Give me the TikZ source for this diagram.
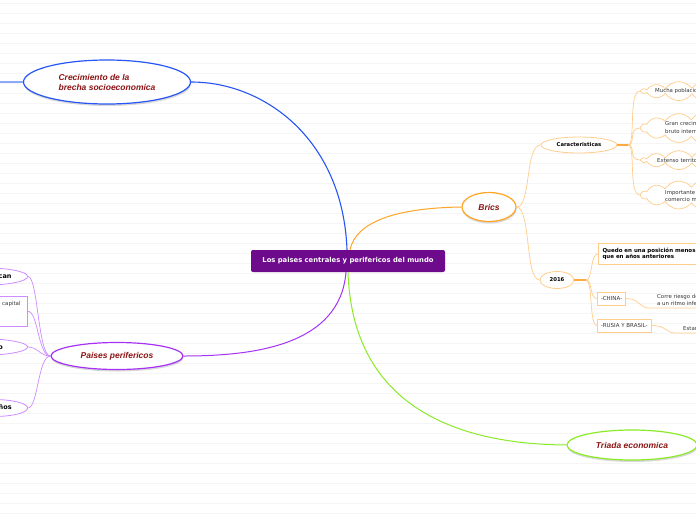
\documentclass[tikz,border=0pt]{standalone}
\usepackage{fontspec}
\setmainfont{Liberation Sans}
\newfontfamily\dv{DejaVu Sans}
\usetikzlibrary{shapes.geometric,shapes.symbols,shadows}
\definecolor{cpurpfill}{RGB}{110,10,140}
\definecolor{cblue}{RGB}{40,85,245}
\definecolor{lblue}{RGB}{140,170,250}
\definecolor{dred}{RGB}{140,20,20}
\definecolor{corange}{RGB}{255,165,40}
\definecolor{lorange}{RGB}{255,205,140}
\definecolor{morange}{RGB}{255,170,60}
\definecolor{cgreen}{RGB}{140,235,40}
\definecolor{cpurp}{RGB}{165,50,245}
\definecolor{lpurp}{RGB}{205,140,255}
\definecolor{bgl}{RGB}{245,245,245}
\definecolor{stxt}{RGB}{55,55,55}
\tikzset{
  central/.style={rectangle, rounded corners=2pt, fill=cpurpfill, text=white,
    font=\dv\bfseries\fontsize{6.8}{8}\selectfont, minimum width=194, minimum height=22, inner sep=0},
  mainell/.style={ellipse, fill=white, line width=1.2pt, text=dred, inner sep=0,
    font=\bfseries\itshape\fontsize{8.5}{10}\selectfont,
    drop shadow={shadow xshift=0.5pt, shadow yshift=-2pt, opacity=0.3, fill=gray}},
  subell/.style={ellipse, draw=lorange, fill=white, line width=0.8pt, inner sep=0,
    font=\dv\bfseries\fontsize{5.3}{6.5}\selectfont},
  cloudst/.style={cloud, cloud puffs=14, cloud puff arc=110, cloud ignores aspect,
    draw=lorange, fill=white, line width=0.7pt, inner sep=0},
  smalltxt/.style={font=\dv\fontsize{5.4}{7.5}\selectfont, text=stxt, inner sep=0, align=left},
  obox/.style={rectangle, draw=lorange, fill=white, line width=0.8pt, inner xsep=3.5pt,
    minimum height=13, font=\dv\fontsize{5.5}{6}\selectfont, text=stxt},
  lorangeline/.style={draw=lorange, line width=0.7pt},
  childell/.style={ellipse, draw=lpurp, fill=white, line width=0.8pt, inner xsep=6pt,
    inner ysep=0pt, minimum height=17, font=\dv\bfseries\fontsize{6.5}{8}\selectfont},
  lpurpline/.style={draw=lpurp, line width=0.7pt}
}
\begin{document}
\begin{tikzpicture}[x=1pt,y=-1pt]
\useasboundingbox (0,0) rectangle (696,520);
\clip (0,0) rectangle (696,520);
\fill[white] (0,0) rectangle (696,520);
\foreach \k in {0,...,51} \draw[bgl, line width=0.5pt] (0,{3+10*\k}) -- (696,{3+10*\k});

% central
\node[central] (c) at (348,261) {Los paises centrales y perifericos del mundo};

% main branches
\node[mainell, draw=cblue, minimum width=167, minimum height=44, align=left] (crec) at (107,82) {Crecimiento de la\\brecha socioeconomica};
\node[mainell, draw=corange, minimum width=54, minimum height=29] (brics) at (489,207) {Brics};
\node[mainell, draw=cgreen, minimum width=130, minimum height=30] (tri) at (632,445) {Triada economica};
\node[mainell, draw=cpurp, minimum width=132, minimum height=27] (pp) at (117,356) {Paises perifericos};

\draw[cblue, line width=1.1pt] ([xshift=-1pt]c.north) .. controls (343,140) and (265,82) .. (crec.east);
\draw[corange, line width=1pt] ([xshift=2pt]c.north) .. controls (356,222) and (395,208) .. (brics.west);
\draw[cgreen, line width=1pt] (c.south) .. controls (352,395) and (440,444) .. (tri.west);
\draw[cpurp, line width=1pt] ([xshift=-2pt]c.south) .. controls (340,345) and (255,356) .. (pp.east);

\coordinate (crecL) at (0,82);
\draw[lblue, line width=1.2pt] (crec.west) -- (crecL);

% Brics children
\node[subell, minimum width=76, minimum height=16] (car) at (579,145) {Caracteristicas};
\node[subell, minimum width=34, minimum height=17] (y16) at (557,280) {2016};
\draw[lorangeline] (brics.east) .. controls (531,208) and (525,145) .. (car.west);
\draw[lorangeline] (brics.east) .. controls (531,208) and (525,280) .. (y16.west);

% clouds
\coordinate (cj) at (628,145);
\draw[morange, line width=1.5pt] (car.east) -- (cj);
\node[cloudst, anchor=west, minimum width=130, minimum height=21] (cl1) at (640,91) {};
\node[cloudst, anchor=west, minimum width=130, minimum height=32] (cl2) at (640,128) {};
\node[cloudst, anchor=west, minimum width=130, minimum height=21] (cl3) at (640,160) {};
\node[cloudst, anchor=west, minimum width=130, minimum height=31] (cl4) at (640,195) {};
\node[smalltxt, anchor=west] (t1) at (655,91) {Mucha poblacion};
\node[smalltxt, anchor=west] (t2) at (665,127.5) {Gran crecimiento del producto\\bruto interno};
\node[smalltxt, anchor=west] (t3) at (657,160) {Extenso territorio};
\node[smalltxt, anchor=west] (t4) at (665,196) {Importante participacion en el\\comercio mundial};
\foreach \n in {cl1,cl2,cl3,cl4}
  \draw[lorangeline] (cj) .. controls (636,145) and (\n.west -| cj) .. (\n.west);

% 2016 children
\coordinate (yj) at (586,280);
\draw[morange, line width=1.5pt] (y16.east) -- (yj);
\node[rectangle, draw=lorange, fill=white, line width=1pt, anchor=north west, minimum height=21,
  inner xsep=4pt, inner ysep=2pt, align=left, font=\dv\bfseries\fontsize{5.5}{6.5}\selectfont] (qd) at (598,243)
  {Quedo en una posición menos favorable\\que en años anteriores};
\node[obox, anchor=west] (ch) at (597,298.5) {-CHINA-};
\node[obox, anchor=west] (ru) at (597,325.5) {-RUSIA Y BRASIL-};
\draw[lorangeline] (yj) .. controls (593,280) and (590,253.5) .. (qd.west);
\draw[lorangeline] (yj) .. controls (593,280) and (589,298.5) .. (ch.west);
\draw[lorangeline] (yj) .. controls (593,280) and (589,325.5) .. (ru.west);
\node[smalltxt, anchor=south west, inner xsep=7pt, inner ysep=2pt] (tch) at (650,308) {Corre riesgo de crecer\\a un ritmo inferior};
\node[smalltxt, anchor=south west, inner xsep=7pt, inner ysep=2.5pt] (tru) at (676,333) {Estancamiento economico};
\draw[lorangeline] (ch.east) .. controls (640,298.5) and (638,308) .. (tch.south west) -- (tch.south east);
\draw[lorangeline] (ru.east) .. controls (667,325.5) and (665,333) .. (tru.south west) -- (tru.south east);

% Paises perifericos children
\node[childell, anchor=east, inner xsep=4pt] (p1) at (28,276.5) {Se identifican};
\node[rectangle, draw=lpurp, fill=white, line width=0.8pt, anchor=north east, align=left,
  inner xsep=7pt, inner ysep=2pt, minimum height=30, font=\dv\fontsize{5.5}{8}\selectfont, text=stxt] (p2) at (28,296)
  {Dependen de la inversión de capital\\extranjero y de las\\exportaciones};
\node[childell, anchor=east, inner xsep=10pt] (p3) at (28,347) {Subdesarrollo};
\node[childell, anchor=east] (p4) at (28,408) {Pequeños};
\draw[lpurpline] (pp.west) .. controls (38,356) and (38,276.5) .. (p1.east);
\draw[lpurpline] (pp.west) .. controls (38,356) and (38,311) .. (p2.east);
\draw[lpurpline] (pp.west) .. controls (40,356) and (38,347) .. (p3.east);
\draw[lpurpline] (pp.west) .. controls (38,356) and (38,408) .. (p4.east);
\end{tikzpicture}
\end{document}
